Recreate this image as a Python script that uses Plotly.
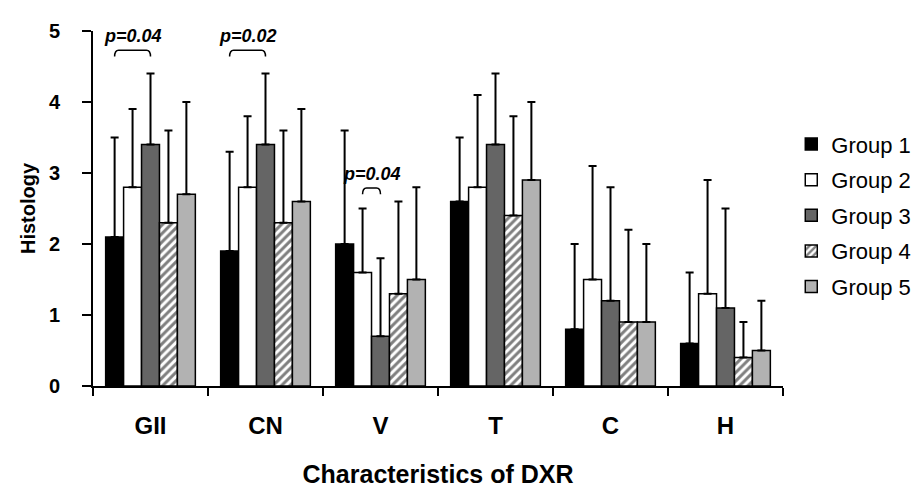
import plotly.graph_objects as go

categories = ["GII", "CN", "V", "T", "C", "H"]
groups = ["Group 1", "Group 2", "Group 3", "Group 4", "Group 5"]

g1_mean = [2.1, 1.9, 2.0, 2.6, 0.8, 0.6]
g2_mean = [2.8, 2.8, 1.6, 2.8, 1.5, 1.3]
g3_mean = [3.4, 3.4, 0.7, 3.4, 1.2, 1.1]
g4_mean = [2.3, 2.3, 1.3, 2.4, 0.9, 0.4]
g5_mean = [2.7, 2.6, 1.5, 2.9, 0.9, 0.5]

g1_sd = [1.4, 1.4, 1.6, 0.9, 1.2, 1.0]
g2_sd = [1.1, 1.0, 0.9, 1.3, 1.6, 1.6]
g3_sd = [1.0, 1.0, 1.1, 1.0, 1.6, 1.4]
g4_sd = [1.3, 1.3, 1.3, 1.4, 1.3, 0.5]
g5_sd = [1.3, 1.3, 1.3, 1.1, 1.1, 0.7]

# significance brackets: category, group a, group b, label
sig_category = ["GII", "CN", "V"]
sig_group_a = [0, 0, 1]
sig_group_b = [2, 2, 2]
sig_label = ["p=0.04", "p=0.02", "p=0.04"]
sig_level = [4.64, 4.64, 2.70]

means = [g1_mean, g2_mean, g3_mean, g4_mean, g5_mean]
sds = [g1_sd, g2_sd, g3_sd, g4_sd, g5_sd]
colors = ["#000000", "#ffffff", "#656565", "#ffffff", "#b2b2b2"]

FONT = "Liberation Sans, Arial, sans-serif"
x_idx = list(range(len(categories)))

fig = go.Figure()
for i, name in enumerate(groups):
    marker = dict(color=colors[i], line=dict(color="black", width=1.5))
    if i == 3:
        marker["pattern"] = dict(shape="/", fgcolor="black", bgcolor="white",
                                 size=6, solidity=0.5)
    fig.add_trace(go.Bar(
        x=x_idx, y=means[i], name=name, marker=marker,
        legendgroup=name,
        error_y=dict(type="data", symmetric=False, array=sds[i],
                     arrayminus=[0] * len(sds[i]), color="black",
                     thickness=2, width=4),
    ))

bargap = 0.22
n = len(groups)
bw = (1 - bargap) / n


def bar_center(cat_i, grp_i):
    return cat_i - (1 - bargap) / 2 + bw * (grp_i + 0.5)


for cat, ga, gb, lab, lev in zip(sig_category, sig_group_a, sig_group_b, sig_label, sig_level):
    ci = categories.index(cat)
    xa = bar_center(ci, ga)
    xb = bar_center(ci, gb)
    top = lev + 0.09
    r = 0.035
    path = (f"M {xa},{lev} Q {xa},{top} {xa + r},{top} "
            f"L {xb - r},{top} Q {xb},{top} {xb},{lev}")
    fig.add_shape(type="path", path=path, xref="x", yref="y",
                  line=dict(color="black", width=1.5))
    fig.add_annotation(x=(xa + xb) / 2, y=top + 0.2, text=f"<b><i>{lab}</i></b>",
                       showarrow=False, font=dict(family=FONT, size=18, color="black"),
                       xref="x", yref="y")

fig.update_layout(
    width=920, height=489,
    margin=dict(l=85, r=139, t=20, b=111),
    paper_bgcolor="white", plot_bgcolor="white",
    barmode="group", bargap=bargap, bargroupgap=0,
    font=dict(family=FONT, color="black"),
    legend=dict(x=1.012, xanchor="left", y=0.74, yanchor="top",
                traceorder="grouped", tracegroupgap=4,
                font=dict(family=FONT, size=22, color="black"),
                bgcolor="rgba(0,0,0,0)"),
    xaxis=dict(
        range=[-0.5, len(categories) - 0.5],
        tickmode="array", tickvals=x_idx, ticktext=categories,
        ticks="", showline=True, linecolor="black", linewidth=2,
        showgrid=False, zeroline=False,
        tickfont=dict(family=FONT, size=24, color="black", weight="bold"),
        ticklabelstandoff=17,
        minor=dict(tickmode="array",
                   tickvals=[k - 0.5 for k in range(len(categories) + 1)],
                   ticks="outside", ticklen=8, tickwidth=2, tickcolor="black",
                   showgrid=False),
        title=dict(text="<b>Characteristics of DXR</b>",
                   font=dict(family=FONT, size=25, color="black"), standoff=28),
    ),
    yaxis=dict(
        range=[0, 5], tickvals=[0, 1, 2, 3, 4, 5],
        ticks="outside", ticklen=9, tickwidth=2, tickcolor="black",
        showline=True, linecolor="black", linewidth=2,
        showgrid=False, zeroline=False,
        tickfont=dict(family=FONT, size=20, color="black", weight="bold"),
        ticklabelstandoff=18,
        title=dict(text="<b>Histology</b>",
                   font=dict(family=FONT, size=20, color="black"), standoff=8),
    ),
)

fig.write_html("out.html")
